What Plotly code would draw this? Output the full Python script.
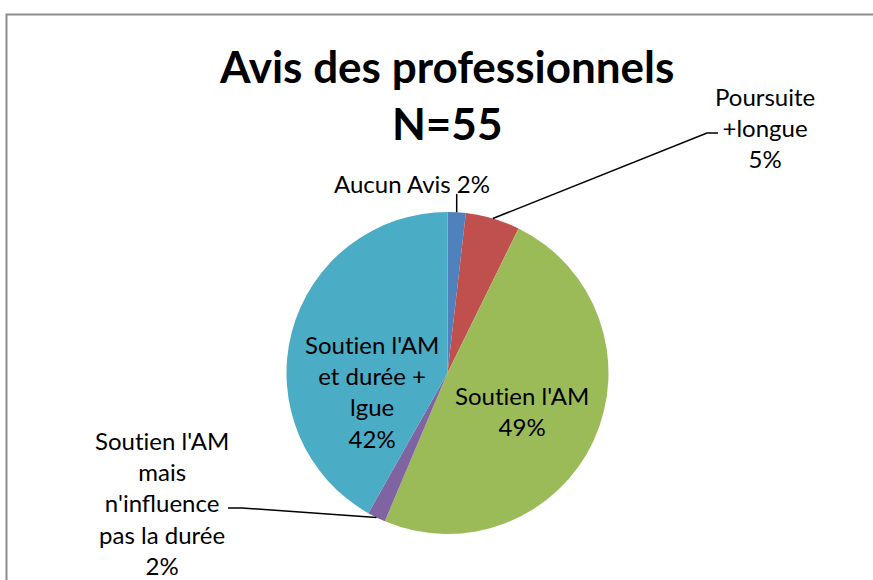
import math
import plotly.graph_objects as go

# données (N=55)
labels = ["Aucun Avis", "Poursuite +longue", "Soutien l'AM",
          "Soutien l'AM mais n'influence pas la durée",
          "Soutien l'AM et durée + lgue"]
counts = [1, 3, 27, 1, 23]
colors = ["#4F81BD", "#C0504D", "#9BBB59", "#8064A2", "#4BACC6"]
# \u200c : évite la ligature "ti" de Lato
S = "Sout\u200cien"
label_text = ["Aucun Avis 2%", "Poursuite<br>+longue<br>5%", S + " l'AM<br>49%",
              S + " l'AM<br>mais<br>n'influence<br>pas la durée<br>2%",
              S + " l'AM<br>et durée +<br>lgue<br>42%"]

W, H = 873, 580
CX, CY, R = 447.5, 373, 161
FONT = "Lato, 'Open Sans', sans-serif"


def px(x):
    return x / W


def py(y):
    return 1 - y / H


fig = go.Figure(go.Pie(
    labels=labels, values=counts, sort=False, direction="clockwise", rotation=0,
    marker=dict(colors=colors, line=dict(width=0)),
    textinfo="none", showlegend=False,
    domain=dict(x=[px(CX - R), px(CX + R)], y=[py(CY + R), py(CY - R)]),
))

# point du bord de chaque part (milieu angulaire), pour les traits de rappel
total = sum(counts)
edge = []
cum = 0
for c in counts:
    a = 2 * math.pi * (cum + c / 2) / total
    edge.append((CX + R * math.sin(a), CY - R * math.cos(a)))
    cum += c

# positions des étiquettes (centre, en pixels)
label_pos = [(412, 183), (765, 127), (522, 411), (162, 503), (372, 391)]
for t, (x, y) in zip(label_text, label_pos):
    fig.add_annotation(x=px(x), y=py(y), xref="paper", yref="paper", text=t,
                       showarrow=False, xanchor="center", yanchor="middle",
                       font=dict(family=FONT, size=24, color="black"))

# traits de rappel
def leader(pts):
    d = "M " + " L ".join(f"{px(x)},{py(y)}" for x, y in pts)
    fig.add_shape(type="path", path=d, xref="paper", yref="paper",
                  line=dict(color="black", width=1.5))

leader([edge[0], (edge[0][0], 194)])
leader([edge[1], (707, 133), (718, 133)])
leader([edge[3], (242, 508), (228, 508)])

# cadre
fig.add_shape(type="rect", xref="paper", yref="paper", x0=px(6.5), y0=-0.05,
              x1=1.05, y1=py(14.5), line=dict(color="#8C8C8C", width=2))

fig.add_annotation(x=px(447), y=py(94), xref="paper", yref="paper",
                   text="<b>Avis des professionnels</b><br><b>N=55</b>",
                   showarrow=False, xanchor="center", yanchor="middle",
                   font=dict(family=FONT, size=44, color="black"))

fig.update_layout(width=W, height=H, margin=dict(l=0, r=0, t=0, b=0),
                  paper_bgcolor="white", plot_bgcolor="white")
fig.write_html("out.html", config={"displayModeBar": False},
               post_script="document.body.style.margin='0';")
